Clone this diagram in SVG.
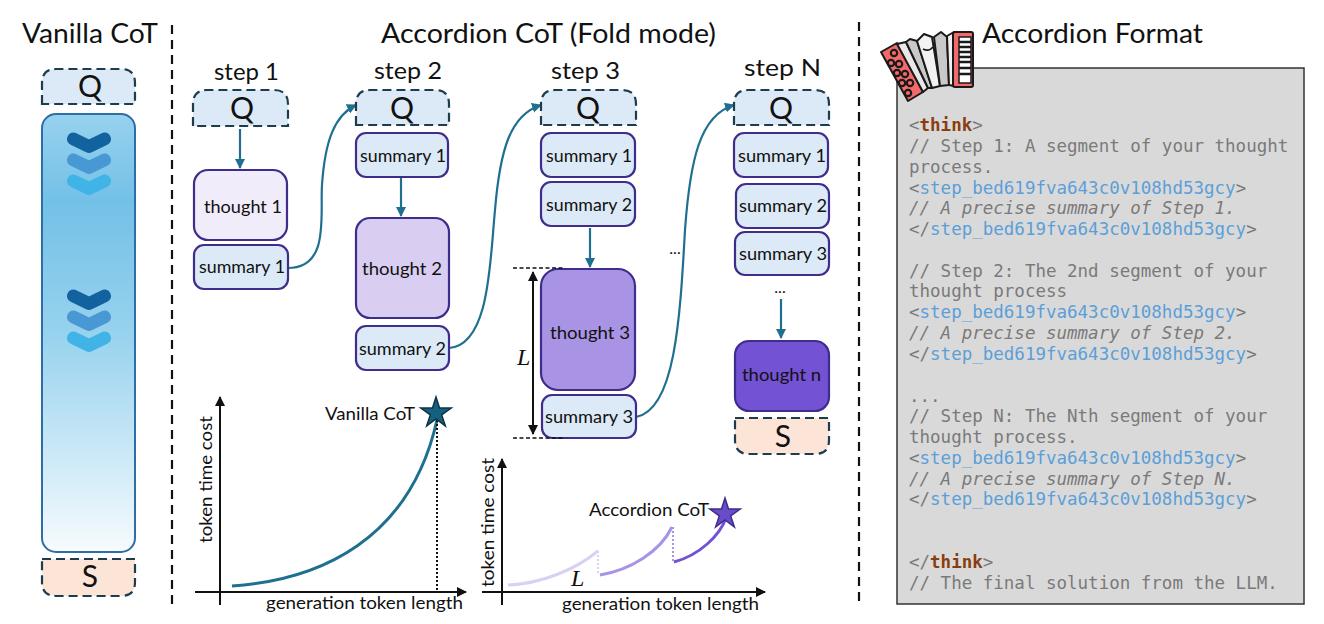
<svg xmlns="http://www.w3.org/2000/svg" width="1324" height="624" viewBox="0 0 1324 624">
<style>
text{font-family:"Comic Sans MS","Lato","Open Sans",sans-serif;fill:#111}
.title{font-size:26px}
.step{font-size:23px}
.big{font-size:30px;text-anchor:middle}
.lab{font-size:18px}
.ax{font-size:18px}
.cap{font-size:17px}
.dash{fill:#dce9f6;stroke:#1d3d4f;stroke-width:2.2;stroke-dasharray:9 5}
.ans{fill:#fce4d6;stroke:#1d3d4f;stroke-width:2.2;stroke-dasharray:9 5}
.node{stroke:#3f2d8c;stroke-width:2.2}
.sum{fill:#dce9f6}
.div{stroke:#111;stroke-width:2.2;stroke-dasharray:9 6;fill:none}
.flow{stroke:#1f6f8f;stroke-width:2.2;fill:none}
.axis{stroke:#111;stroke-width:2;fill:none}
.code{font-family:"DejaVu Sans Mono","Liberation Mono",monospace;font-size:17.5px;fill:#7a7a7a}
.code .tag{fill:#5b9fd8}
.code .kw{fill:#8a3d10;font-weight:bold}
.code .c{font-style:italic}
.serif{font-family:"Liberation Serif",serif;font-style:italic;font-size:24px}
.ik{stroke:#1a1a1a;stroke-width:2;stroke-linejoin:round}
.chev{fill:none;stroke-width:13;stroke-linecap:round;stroke-linejoin:round}
</style>
<defs>
<marker id="af" markerUnits="userSpaceOnUse" markerWidth="12" markerHeight="12" refX="9" refY="5" orient="auto"><path d="M0 0L10 5L0 10Z" fill="#1f6f8f"/></marker>
<marker id="ak" markerUnits="userSpaceOnUse" markerWidth="12" markerHeight="12" refX="9" refY="5" orient="auto-start-reverse"><path d="M0 0L10 5L0 10Z" fill="#111"/></marker>
<linearGradient id="bar" x1="0" y1="0" x2="0" y2="1">
<stop offset="0" stop-color="#97d2ee"/><stop offset=".2" stop-color="#73c0e7"/><stop offset=".5" stop-color="#97d2ee"/><stop offset="1" stop-color="#f6fbfe"/>
</linearGradient>
<path id="chev" d="M-15.5 -4L0 3.5L15.5 -4"/>
<path id="star" d="M0 -16L3.5 -4.9L15.2 -4.9L5.7 1.9L9.4 12.9L0 6L-9.4 12.9L-5.7 1.9L-15.2 -4.9L-3.5 -4.9Z"/>
<circle id="btn" r="3.2" fill="#f46a6a" stroke="#1a1a1a" stroke-width="2.2"/>
</defs>

<g id="dividers">
<path class="div" d="M172 25V607"/>
<path class="div" d="M859 22V604"/>
</g>

<g id="titles">
<text class="title" x="22" y="43" textLength="136" lengthAdjust="spacingAndGlyphs">Vanilla CoT</text>
<text class="title" x="381" y="43" textLength="335" lengthAdjust="spacingAndGlyphs">Accordion CoT (Fold mode)</text>
<text class="title" x="982" y="43" textLength="221" lengthAdjust="spacingAndGlyphs">Accordion Format</text>
<text class="step" x="214" y="80" textLength="65" lengthAdjust="spacingAndGlyphs">step 1</text>
<text class="step" x="374" y="79" textLength="68" lengthAdjust="spacingAndGlyphs">step 2</text>
<text class="step" x="551" y="79" textLength="69" lengthAdjust="spacingAndGlyphs">step 3</text>
<text class="step" x="744" y="76" textLength="77" lengthAdjust="spacingAndGlyphs">step N</text>
</g>

<g id="vanilla-q"><path class="dash" d="M42 104V83Q42 69 56 69H121Q135 69 135 83V104Z"/><text class="big" x="90" y="97">Q</text></g>
<g id="vanilla-bar">
<rect x="42" y="114" width="93" height="438" rx="14" fill="url(#bar)" stroke="#2e6ea6" stroke-width="2"/>
<use href="#chev" class="chev" x="89" y="143" stroke="#12629f"/><use href="#chev" class="chev" x="89" y="164" stroke="#4898d3"/><use href="#chev" class="chev" x="89" y="185" stroke="#40b4e6"/>
<use href="#chev" class="chev" x="89" y="300" stroke="#12629f"/><use href="#chev" class="chev" x="89" y="321" stroke="#4898d3"/><use href="#chev" class="chev" x="89" y="342" stroke="#40b4e6"/>
</g>
<g id="vanilla-s"><path class="ans" d="M42 559H135V582Q135 596 121 596H56Q42 596 42 582Z"/><text class="big" x="90" y="587">S</text></g>

<g id="connectors">
<path class="flow" marker-end="url(#af)" d="M240 129V168"/>
<path class="flow" marker-end="url(#af)" d="M401 178V216"/>
<path class="flow" marker-end="url(#af)" d="M590 228V267"/>
<path class="flow" marker-end="url(#af)" d="M781 299V338"/>
<path class="flow" marker-end="url(#af)" d="M288 268C330 268 320 215 322 185C325 140 335 115 356 105"/>
<path class="flow" marker-end="url(#af)" d="M449 348C490 345 490 260 495 210C500 150 510 115 541 105"/>
<path class="flow" marker-end="url(#af)" d="M636 417C675 410 680 320 685 230C690 160 700 115 734 105"/>
</g>

<g id="s1-q"><path class="dash" d="M193 126V104Q193 90 207 90H274Q288 90 288 104V126Z"/><text class="big" x="242" y="119">Q</text></g>
<g id="s1-thought"><rect class="node" x="194" y="170" width="93" height="70" rx="14" fill="#f0ecfa"/><text class="lab" x="204" y="213" textLength="78" lengthAdjust="spacingAndGlyphs">thought 1</text></g>
<g id="s1-summary"><rect class="node sum" x="194" y="245" width="94" height="44" rx="10"/><text class="lab" x="199" y="273" textLength="86" lengthAdjust="spacingAndGlyphs">summary 1</text></g>

<g id="s2-q"><path class="dash" d="M356 125V104Q356 90 370 90H435Q449 90 449 104V125Z"/><text class="big" x="402" y="119">Q</text></g>
<g id="s2-summary1"><rect class="node sum" x="356" y="133" width="92" height="44" rx="10"/><text class="lab" x="360" y="162" textLength="86" lengthAdjust="spacingAndGlyphs">summary 1</text></g>
<g id="s2-thought"><rect class="node" x="356" y="218" width="93" height="100" rx="14" fill="#d9cdf1"/><text class="lab" x="362" y="275" textLength="80" lengthAdjust="spacingAndGlyphs">thought 2</text></g>
<g id="s2-summary2"><rect class="node sum" x="356" y="326" width="93" height="44" rx="10"/><text class="lab" x="359" y="355" textLength="87" lengthAdjust="spacingAndGlyphs">summary 2</text></g>

<g id="s3-q"><path class="dash" d="M541 125V104Q541 90 555 90H622Q636 90 636 104V125Z"/><text class="big" x="588" y="119">Q</text></g>
<g id="s3-summary1"><rect class="node sum" x="541" y="133" width="94" height="44" rx="10"/><text class="lab" x="546" y="162" textLength="86" lengthAdjust="spacingAndGlyphs">summary 1</text></g>
<g id="s3-summary2"><rect class="node sum" x="541" y="182" width="94" height="44" rx="10"/><text class="lab" x="546" y="211" textLength="86" lengthAdjust="spacingAndGlyphs">summary 2</text></g>
<g id="s3-thought"><rect class="node" x="541" y="269" width="94" height="121" rx="17" fill="#a993e4"/><text class="lab" x="550" y="339" textLength="80" lengthAdjust="spacingAndGlyphs">thought 3</text></g>
<g id="s3-summary3"><rect class="node sum" x="542" y="395" width="94" height="43" rx="10"/><text class="lab" x="545" y="423" textLength="88" lengthAdjust="spacingAndGlyphs">summary 3</text></g>

<g id="sN-q"><path class="dash" d="M734 125V104Q734 90 748 90H815Q829 90 829 104V125Z"/><text class="big" x="781" y="119">Q</text></g>
<g id="sN-summary1"><rect class="node sum" x="734" y="133" width="94" height="44" rx="10"/><text class="lab" x="738" y="162" textLength="88" lengthAdjust="spacingAndGlyphs">summary 1</text></g>
<g id="sN-summary2"><rect class="node sum" x="736" y="184" width="93" height="44" rx="10"/><text class="lab" x="739" y="212" textLength="88" lengthAdjust="spacingAndGlyphs">summary 2</text></g>
<g id="sN-summary3"><rect class="node sum" x="735" y="232" width="94" height="43" rx="10"/><text class="lab" x="739" y="260" textLength="88" lengthAdjust="spacingAndGlyphs">summary 3</text></g>
<g id="sN-thought"><rect class="node" x="735" y="341" width="94" height="70" rx="14" fill="#7352d4"/><text class="lab" x="742" y="381" textLength="79" lengthAdjust="spacingAndGlyphs">thought n</text></g>
<g id="sN-s"><path class="ans" d="M735 418H829V440Q829 454 815 454H749Q735 454 735 440Z"/><text class="big" x="783" y="447">S</text></g>
<text x="675" y="254" font-size="16" text-anchor="middle">...</text>
<text x="780" y="293" font-size="16" text-anchor="middle">...</text>

<g id="length-marker">
<path d="M513 268H563M513 438H563" stroke="#111" stroke-width="1.4" stroke-dasharray="4 2.5" fill="none"/>
<path class="axis" marker-start="url(#ak)" marker-end="url(#ak)" d="M533 272V434"/>
<text class="serif" x="517" y="365">L</text>
</g>

<g id="chart-vanilla">
<path class="axis" marker-end="url(#ak)" d="M220 605V397"/>
<path class="axis" marker-end="url(#ak)" d="M195 592H466"/>
<path d="M232 586C320 580 410 540 437 420" fill="none" stroke="#1f6f8f" stroke-width="3"/>
<path d="M437 420V590" fill="none" stroke="#111" stroke-width="2" stroke-dasharray="2 2"/>
<use href="#star" x="436" y="413" fill="#14607f" stroke="#123247" stroke-width="1.5"/>
<text class="cap" x="325" y="420" textLength="90" lengthAdjust="spacingAndGlyphs">Vanilla CoT</text>
<text class="ax" transform="translate(212 543) rotate(-90)" textLength="127" lengthAdjust="spacingAndGlyphs">token time cost</text>
<text class="ax" x="266" y="609" textLength="197" lengthAdjust="spacingAndGlyphs">generation token length</text>
</g>

<g id="chart-accordion">
<path class="axis" marker-end="url(#ak)" d="M502 605V459"/>
<path class="axis" marker-end="url(#ak)" d="M482 592H765"/>
<path d="M508 585C540 584 575 570 598 551" fill="none" stroke="#d9d0f3" stroke-width="3"/>
<path d="M598 551V574" fill="none" stroke="#d9d0f3" stroke-width="2" stroke-dasharray="2 2"/>
<path d="M600 575C630 570 660 552 672 527" fill="none" stroke="#a993e4" stroke-width="3"/>
<path d="M673 527V561" fill="none" stroke="#a993e4" stroke-width="2" stroke-dasharray="2 2"/>
<path d="M674 562C700 555 720 535 726 518" fill="none" stroke="#7352d4" stroke-width="3"/>
<use href="#star" x="725" y="514" fill="#6a4bc8" stroke="#3f2d8c" stroke-width="1.5"/>
<text class="cap" x="589" y="516" textLength="120" lengthAdjust="spacingAndGlyphs">Accordion CoT</text>
<text class="serif" x="571" y="586">L</text>
<text class="ax" transform="translate(494 587) rotate(-90)" textLength="129" lengthAdjust="spacingAndGlyphs">token time cost</text>
<text class="ax" x="562" y="610" textLength="197" lengthAdjust="spacingAndGlyphs">generation token length</text>
</g>

<g id="format-panel">
<rect x="897" y="68" width="407" height="536" fill="#d9d9d9" stroke="#333" stroke-width="1.5"/>
<text class="code" xml:space="preserve">
<tspan x="909" y="131">&lt;<tspan class="kw">think</tspan>&gt;</tspan>
<tspan x="909" y="152">// Step 1: A segment of your thought</tspan>
<tspan x="909" y="173">process.</tspan>
<tspan x="909" y="194">&lt;<tspan class="tag">step_bed619fva643c0v108hd53gcy</tspan>&gt;</tspan>
<tspan x="909" y="214" class="c">// A precise summary of Step 1.</tspan>
<tspan x="909" y="235">&lt;/<tspan class="tag">step_bed619fva643c0v108hd53gcy</tspan>&gt;</tspan>
<tspan x="909" y="277">// Step 2: The 2nd segment of your</tspan>
<tspan x="909" y="297">thought process</tspan>
<tspan x="909" y="318">&lt;<tspan class="tag">step_bed619fva643c0v108hd53gcy</tspan>&gt;</tspan>
<tspan x="909" y="339" class="c">// A precise summary of Step 2.</tspan>
<tspan x="909" y="360">&lt;/<tspan class="tag">step_bed619fva643c0v108hd53gcy</tspan>&gt;</tspan>
<tspan x="909" y="402">...</tspan>
<tspan x="909" y="422">// Step N: The Nth segment of your</tspan>
<tspan x="909" y="443">thought process.</tspan>
<tspan x="909" y="464">&lt;<tspan class="tag">step_bed619fva643c0v108hd53gcy</tspan>&gt;</tspan>
<tspan x="909" y="485" class="c">// A precise summary of Step N.</tspan>
<tspan x="909" y="505">&lt;/<tspan class="tag">step_bed619fva643c0v108hd53gcy</tspan>&gt;</tspan>
<tspan x="909" y="568">&lt;/<tspan class="kw">think</tspan>&gt;</tspan>
<tspan x="909" y="589">// The final solution from the LLM.</tspan>
</text>
</g>

<g id="accordion-icon">
<path class="ik" d="M881 52L897 43L923 92L908 101Z" fill="#f46a6a"/>
<path class="ik" d="M897 44L906 42L928 88L923 92Z" fill="#e8e8e8"/>
<path class="ik" d="M906 42L910 39L917 41L932 88L928 88Z" fill="#c9c9c9"/>
<path class="ik" d="M917 41L924 34L932 37L940 86L932 88Z" fill="#f2f2f2"/>
<path class="ik" d="M934 37L941 32L947 37L949 85L940 86Z" fill="#c9c9c9"/>
<path class="ik" d="M947 36L954 32V86L949 85Z" fill="#f2f2f2"/>
<rect class="ik" x="953" y="32" width="20" height="55" rx="2" fill="#f46a6a"/>
<rect x="959" y="37" width="12" height="46" fill="#fff" stroke="#1a1a1a" stroke-width="1.5"/>
<path d="M959 42H971M959 47H971M959 52H971M959 57H971M959 62H971M959 68H971M959 74H971" stroke="#1a1a1a" stroke-width="2.4"/>
<path d="M923 49Q929 52 933 47" stroke="#1a1a1a" stroke-width="1.5" fill="none"/>
<use href="#btn" x="894" y="53"/><use href="#btn" x="891" y="63"/><use href="#btn" x="899" y="64"/><use href="#btn" x="897" y="73"/><use href="#btn" x="905" y="74"/><use href="#btn" x="902" y="83"/><use href="#btn" x="910" y="83"/><use href="#btn" x="908" y="93"/>
</g>
</svg>
